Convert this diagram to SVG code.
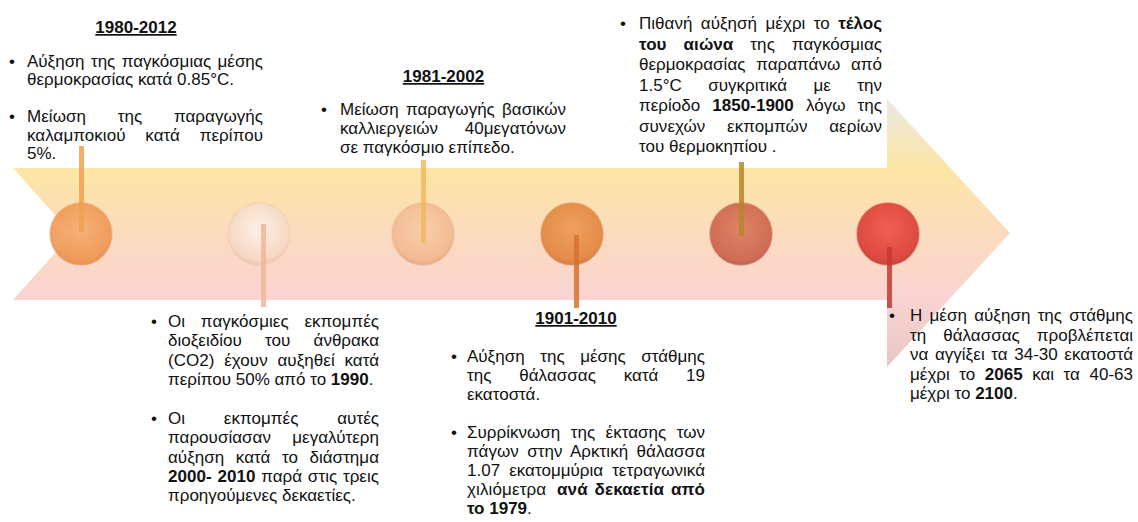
<svg xmlns="http://www.w3.org/2000/svg" width="1138" height="522" viewBox="0 0 1138 522">
<style>
text{font-family:"Liberation Sans",Arial,sans-serif;font-size:17px;fill:#111}
.h{font-weight:bold;text-decoration:underline;text-anchor:middle}
.b{font-weight:bold}
.circ{opacity:.9;stroke-width:1.5;stroke-opacity:.55}
.stem{opacity:.85}
</style>
<defs>
<linearGradient id="arrowGrad" x1="0" y1="99" x2="0" y2="367" gradientUnits="userSpaceOnUse">
<stop offset="0" stop-color="#ebe8e3"/>
<stop offset="0.26" stop-color="#fde6a4"/>
<stop offset="0.5" stop-color="#fbdbbd"/>
<stop offset="0.75" stop-color="#fad3d3"/>
<stop offset="1" stop-color="#e7c6c3"/>
</linearGradient>
<radialGradient id="g1" cx="0.5" cy="0.42" r="0.58"><stop offset="0" stop-color="#f6ad72"/><stop offset="0.85" stop-color="#ef9550"/><stop offset="1" stop-color="#e2884a"/></radialGradient>
<radialGradient id="g2" cx="0.5" cy="0.42" r="0.58"><stop offset="0" stop-color="#fdf3ec"/><stop offset="0.85" stop-color="#f6d8c4"/><stop offset="1" stop-color="#ebc2aa"/></radialGradient>
<radialGradient id="g3" cx="0.5" cy="0.42" r="0.58"><stop offset="0" stop-color="#f8cdab"/><stop offset="0.85" stop-color="#f3b88f"/><stop offset="1" stop-color="#e6a47e"/></radialGradient>
<radialGradient id="g4" cx="0.5" cy="0.42" r="0.58"><stop offset="0" stop-color="#ee9a56"/><stop offset="0.85" stop-color="#e2843c"/><stop offset="1" stop-color="#d27638"/></radialGradient>
<radialGradient id="g5" cx="0.5" cy="0.42" r="0.58"><stop offset="0" stop-color="#da7a60"/><stop offset="0.85" stop-color="#cc6249"/><stop offset="1" stop-color="#bb5647"/></radialGradient>
<radialGradient id="g6" cx="0.5" cy="0.42" r="0.58"><stop offset="0" stop-color="#ee5348"/><stop offset="0.85" stop-color="#dc3b34"/><stop offset="1" stop-color="#c4332f"/></radialGradient>
</defs>
<rect width="1138" height="522" fill="#fff"/>

<g id="arrow">
<polygon points="13,168 887,168 887,99 1010,233 887,367 887,300 13,300 72,234" fill="url(#arrowGrad)"/>
</g>

<g id="node1980">
<circle class="circ" cx="81" cy="234" r="31" fill="url(#g1)" stroke="#e6a070"/>
<text class="h" x="136" y="33">1980-2012</text>
<text x="9" y="66.5">•</text>
<text x="27" y="66.5" word-spacing="1.7" textLength="236" lengthAdjust="spacing">Αύξηση της παγκόσμιας μέσης</text>
<text x="27" y="85">θερμοκρασίας κατά 0.85°C.</text>
<text x="9" y="122">•</text>
<text x="27" y="122" word-spacing="27" textLength="236" lengthAdjust="spacing">Μείωση της παραγωγής</text>
<text x="27" y="140.5" word-spacing="15" textLength="236" lengthAdjust="spacing">καλαμποκιού κατά περίπου</text>
<text x="27" y="159">5%.</text>
</g>

<g id="node1981">
<circle class="circ" cx="259" cy="234" r="31" fill="url(#g2)" stroke="#eccbb8"/>
<text class="h" x="443.5" y="82">1981-2002</text>
<text x="321" y="115">•</text>
<text x="340" y="115" word-spacing="2.5" textLength="226" lengthAdjust="spacing">Μείωση παραγωγής βασικών</text>
<text x="340" y="134" word-spacing="22" textLength="226" lengthAdjust="spacing">καλλιεργειών 40μεγατόνων</text>
<text x="340" y="153">σε παγκόσμιο επίπεδο.</text>
</g>

<g id="node1990">
<circle class="circ" cx="423" cy="234" r="31" fill="url(#g3)" stroke="#e8b393"/>
<text x="151" y="327">•</text>
<text x="168" y="327" word-spacing="11" textLength="211" lengthAdjust="spacing">Οι παγκόσμιες εκπομπές</text>
<text x="168" y="346.3" word-spacing="18.5" textLength="211" lengthAdjust="spacing">διοξειδίου του άνθρακα</text>
<text x="168" y="365.6" word-spacing="5" textLength="211" lengthAdjust="spacing">(CO2) έχουν αυξηθεί κατά</text>
<text x="168" y="385">περίπου 50% από το <tspan class="b">1990</tspan>.</text>
<text x="151" y="424">•</text>
<text x="168" y="424" word-spacing="34" textLength="211" lengthAdjust="spacing">Οι εκπομπές αυτές</text>
<text x="168" y="443.3" word-spacing="16.5" textLength="211" lengthAdjust="spacing">παρουσίασαν μεγαλύτερη</text>
<text x="168" y="462.6" word-spacing="6.8" textLength="211" lengthAdjust="spacing">αύξηση κατά το διάστημα</text>
<text x="168" y="482" word-spacing="1" textLength="211" lengthAdjust="spacing"><tspan class="b">2000- 2010</tspan> παρά στις τρεις</text>
<text x="168" y="501">προηγούμενες δεκαετίες.</text>
</g>

<g id="node1901">
<circle class="circ" cx="572" cy="234" r="31" fill="url(#g4)" stroke="#d98a55"/>
<text class="h" x="576" y="324">1901-2010</text>
<text x="451" y="361.5">•</text>
<text x="467" y="361.5" word-spacing="10.9" textLength="238" lengthAdjust="spacing">Αύξηση της μέσης στάθμης</text>
<text x="467" y="380.7" word-spacing="23" textLength="238" lengthAdjust="spacing">της θάλασσας κατά 19</text>
<text x="467" y="400">εκατοστά.</text>
<text x="451" y="438">•</text>
<text x="467" y="438" word-spacing="5.7" textLength="238" lengthAdjust="spacing">Συρρίκνωση της έκτασης των</text>
<text x="467" y="457" word-spacing="3.5" textLength="238" lengthAdjust="spacing">πάγων στην Αρκτική θάλασσα</text>
<text x="467" y="476" word-spacing="4.2" textLength="238" lengthAdjust="spacing">1.07 εκατομμύρια τετραγωνικά</text>
<text x="467" y="495" word-spacing="2" textLength="238" lengthAdjust="spacing">χιλιόμετρα <tspan class="b" dx="4">ανά δεκαετία από</tspan></text>
<text x="467" y="514" class="b">το 1979<tspan font-weight="normal">.</tspan></text>
</g>

<g id="node2100">
<circle class="circ" cx="741" cy="234" r="31" fill="url(#g5)" stroke="#c0705e"/>
<text x="620" y="29">•</text>
<text x="639" y="29" word-spacing="3.7" textLength="243" lengthAdjust="spacing">Πιθανή αύξησή μέχρι το <tspan class="b">τέλος</tspan></text>
<text x="639" y="49.5" word-spacing="12.3" textLength="243" lengthAdjust="spacing"><tspan class="b">του αιώνα</tspan> της παγκόσμιας</text>
<text x="639" y="70" word-spacing="6" textLength="243" lengthAdjust="spacing">θερμοκρασίας παραπάνω από</text>
<text x="639" y="90.5" word-spacing="21.7" textLength="243" lengthAdjust="spacing">1.5°C συγκριτικά με την</text>
<text x="639" y="111" word-spacing="7.4" textLength="243" lengthAdjust="spacing">περίοδο <tspan class="b">1850-1900</tspan> λόγω της</text>
<text x="639" y="131.5" word-spacing="17" textLength="243" lengthAdjust="spacing">συνεχών εκπομπών αερίων</text>
<text x="639" y="152">του θερμοκηπίου .</text>
</g>

<g id="node2065">
<circle class="circ" cx="888" cy="234" r="31" fill="url(#g6)" stroke="#c85048"/>
<text x="889" y="321">•</text>
<text x="910" y="321" word-spacing="2.6" textLength="223" lengthAdjust="spacing">Η μέση αύξηση της στάθμης</text>
<text x="910" y="340.5" word-spacing="12.3" textLength="223" lengthAdjust="spacing">τη θάλασσας προβλέπεται</text>
<text x="910" y="360" word-spacing="1.8" textLength="223" lengthAdjust="spacing">να αγγίξει τα 34-30 εκατοστά</text>
<text x="910" y="379.5" word-spacing="4.8" textLength="223" lengthAdjust="spacing">μέχρι το <tspan class="b">2065</tspan> και τα 40-63</text>
<text x="910" y="399">μέχρι το <tspan class="b">2100</tspan>.</text>
</g>

<g id="connectors">
<rect class="stem" x="79" y="146" width="5" height="86" fill="#f0a050"/>
<rect class="stem" x="261" y="224" width="5" height="83" fill="#f0b598"/>
<rect class="stem" x="421" y="160" width="5" height="83" fill="#f0b860"/>
<rect class="stem" x="574" y="235" width="5" height="73" fill="#d6722c"/>
<rect class="stem" x="739" y="162" width="5" height="74" fill="#b8842c"/>
<rect class="stem" x="887" y="247" width="5" height="61" fill="#c23a32"/>
</g>
</svg>
